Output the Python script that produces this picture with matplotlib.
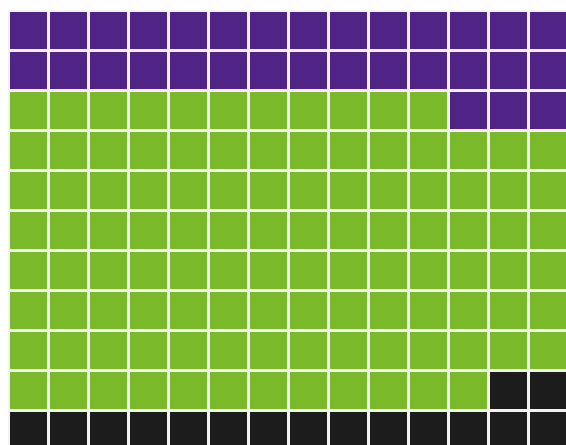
import matplotlib.pyplot as plt
import numpy as np
from matplotlib.colors import ListedColormap

# ---------------------- 数据 ----------------------
categories = ['Purple', 'Green', 'Black']
counts = [31, 107, 16]
colors = ['#4F2486', '#7AB929', '#1C1C1C']
n_cols = 14
n_rows = 11

# ---------------------- 蛇形填充网格 ----------------------
order = []
for r in range(n_rows):
    cols = range(n_cols - 1, -1, -1) if r % 2 == 0 else range(n_cols)
    order.extend((r, c) for c in cols)

labels = np.repeat(np.arange(len(categories)), counts)
grid = np.zeros((n_rows, n_cols), dtype=int)
for (r, c), k in zip(order, labels):
    grid[r, c] = k

# ---------------------- 绘图 ----------------------
fig = plt.figure(figsize=(5.66, 4.45), dpi=100)
cell_w = 40 / 566
cell_h = 40 / 445
ax = fig.add_axes([8 / 566, 1 - 10 / 445 - n_rows * cell_h, n_cols * cell_w, n_rows * cell_h])
ax.pcolormesh(grid, cmap=ListedColormap(colors), vmin=-0.5, vmax=len(categories) - 0.5,
              edgecolors='#F2F2F2', linewidth=0.8)
ax.set_xlim(0, n_cols)
ax.set_ylim(n_rows, 0)
ax.axis('off')

plt.savefig('out.png', dpi=100)
